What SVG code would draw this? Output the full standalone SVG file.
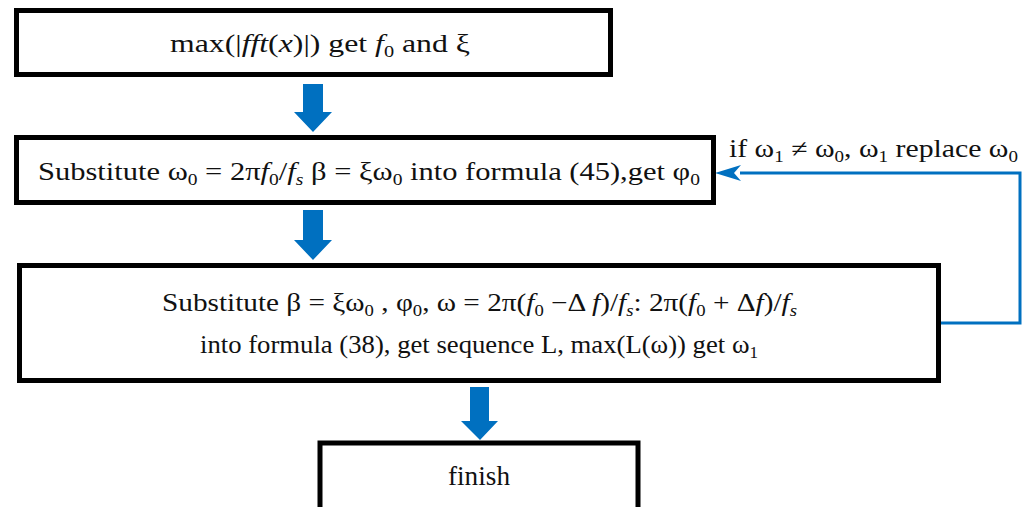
<svg xmlns="http://www.w3.org/2000/svg" width="1029" height="507" viewBox="0 0 1029 507">
<style>
  .box { fill: #fff; stroke: #000; stroke-width: 5; }
  .t { font-family: "Liberation Serif", "Times New Roman", serif; font-size: 25px; fill: #111; }
  .i { font-style: italic; }
  .sub { font-size: 16px; }
  .blk { fill: #0070C0; }
  .fb { fill: none; stroke: #0070C0; stroke-width: 3; }
</style>
<rect width="1029" height="507" fill="#fff"/>

<g id="connectors">
  <polygon class="blk" points="303,84 323,84 323,112 332,112 313,132 294,112 303,112"/>
  <polygon class="blk" points="303,210 323,210 323,240 332,240 313,260 294,240 303,240"/>
  <polygon class="blk" points="470,387 489,387 489,421 498,421 480,440 461,421 470,421"/>
  <polyline class="fb" points="941,323 1020,323 1020,173 740,173"/>
  <path d="M715,173 L741,165 L734,173 L741,181 Z" fill="#0070C0"/>
  <text class="t" x="729" y="157" textLength="289" lengthAdjust="spacingAndGlyphs">if  ω<tspan class="sub" dy="5">1</tspan><tspan dy="-5"> ≠ ω</tspan><tspan class="sub" dy="5">0</tspan><tspan dy="-5">, ω</tspan><tspan class="sub" dy="5">1</tspan><tspan dy="-5">  replace  ω</tspan><tspan class="sub" dy="5">0</tspan></text>
</g>

<g id="node-fft">
  <rect class="box" x="16.5" y="10.5" width="594" height="64"/>
  <text class="t" x="170" y="52" textLength="300" lengthAdjust="spacingAndGlyphs">max(|<tspan class="i">fft</tspan>(<tspan class="i">x</tspan>)|)  get  <tspan class="i">f</tspan><tspan class="sub" dy="5">0</tspan><tspan dy="-5"> and ξ</tspan></text>
</g>

<g id="node-substitute1">
  <rect class="box" x="16.5" y="137.5" width="697" height="65"/>
  <text class="t" x="38" y="180" textLength="662" lengthAdjust="spacingAndGlyphs">Substitute  ω<tspan class="sub" dy="5">0</tspan><tspan dy="-5"> = 2π</tspan><tspan class="i">f</tspan><tspan class="sub" dy="5">0</tspan><tspan dy="-5">/</tspan><tspan class="i">f</tspan><tspan class="sub i" dy="5">s</tspan><tspan dy="-5">  β = ξω</tspan><tspan class="sub" dy="5">0</tspan><tspan dy="-5">  into formula (45),get  φ</tspan><tspan class="sub" dy="5">0</tspan></text>
</g>

<g id="node-substitute2">
  <rect class="box" x="19.5" y="265.5" width="919" height="115"/>
  <text class="t" x="162" y="311" textLength="635" lengthAdjust="spacingAndGlyphs">Substitute β = ξω<tspan class="sub" dy="5">0</tspan><tspan dy="-5"> , φ</tspan><tspan class="sub" dy="5">0</tspan><tspan dy="-5">, ω = 2π(</tspan><tspan class="i">f</tspan><tspan class="sub" dy="5">0</tspan><tspan dy="-5"> −Δ </tspan><tspan class="i">f</tspan>)/<tspan class="i">f</tspan><tspan class="sub i" dy="5">s</tspan><tspan dy="-5">: 2π(</tspan><tspan class="i">f</tspan><tspan class="sub" dy="5">0</tspan><tspan dy="-5"> + Δ</tspan><tspan class="i">f</tspan>)/<tspan class="i">f</tspan><tspan class="sub i" dy="5">s</tspan></text>
  <text class="t" x="200" y="353" textLength="558" lengthAdjust="spacingAndGlyphs">into formula (38), get sequence L, max(L(ω))  get  ω<tspan class="sub" dy="5">1</tspan></text>
</g>

<g id="node-finish">
  <rect class="box" x="320" y="443" width="318" height="70"/>
  <text class="t" x="448" y="485" textLength="62" lengthAdjust="spacingAndGlyphs" style="font-size:27px">finish</text>
</g>
</svg>
